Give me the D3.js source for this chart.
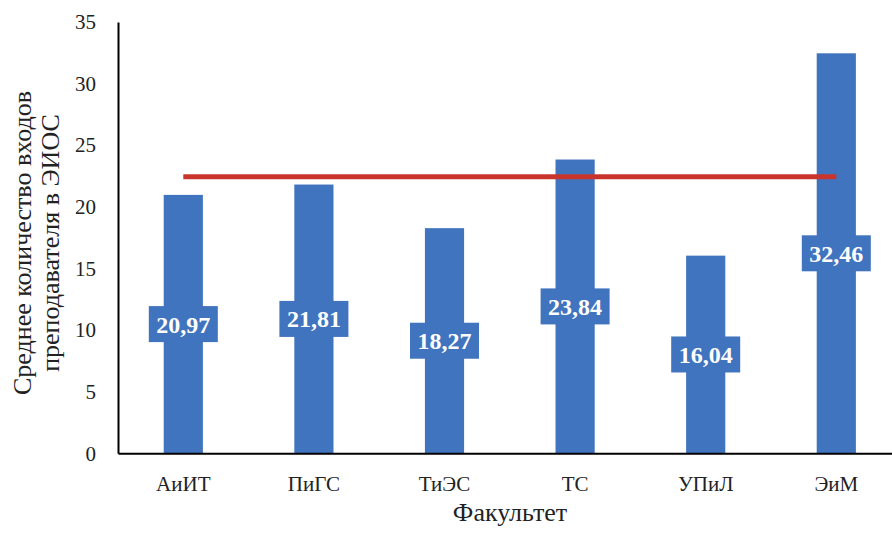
<!DOCTYPE html>
<html><head><meta charset="utf-8">
<script src="https://cdn.jsdelivr.net/npm/d3@7"></script>
<style>
html,body{margin:0;padding:0;background:#fff;}
</style></head>
<body><svg id="c" width="892" height="533"></svg>
<script>
const categories = ["АиИТ","ПиГС","ТиЭС","ТС","УПиЛ","ЭиМ"];
const values = [20.97, 21.81, 18.27, 23.84, 16.04, 32.46];
const valueLabels = ["20,97","21,81","18,27","23,84","16,04","32,46"];
const averageValues = [22.45, 22.45, 22.45, 22.45, 22.45, 22.45];
const yTicks = [0,5,10,15,20,25,30,35];
const yTitleLines = ["Среднее количество входов","преподавателя в ЭИОС"];
const xTitle = "Факультет";

(function(){
const FONT = "'Liberation Serif'";
const svg = d3.select("#c");
const mLeft = 118, mRight = 901.6, mTop = 22, mBottom = 453.3;
const x = d3.scaleBand().domain(categories).range([mLeft, mRight]).paddingInner(0.7).paddingOuter(0.35);
const y = d3.scaleLinear().domain([0,35]).range([mBottom, mTop]);
const blue = "#4174be", red = "#c9342c";

// bars
svg.append("g").selectAll("rect").data(values).join("rect")
  .attr("x",(d,i)=>x(categories[i])).attr("width",x.bandwidth())
  .attr("y",d=>y(d)).attr("height",d=>y(0)-y(d)).attr("fill",blue);

// average line
const line = d3.line().x((d,i)=>x(categories[i])+x.bandwidth()/2).y(d=>y(d));
svg.append("path").datum(averageValues).attr("d",line)
  .attr("fill","none").attr("stroke",red).attr("stroke-width",5);

// data labels
const lg = svg.append("g").selectAll("g").data(values).join("g")
  .attr("transform",(d,i)=>`translate(${x(categories[i])+x.bandwidth()/2},${y(d/2)})`);
lg.append("rect").attr("x",-34.5).attr("y",-18).attr("width",69).attr("height",36).attr("fill",blue);
lg.append("text").text((d,i)=>valueLabels[i]).attr("text-anchor","middle").attr("dy","0.35em")
  .attr("fill","#fff").attr("font-weight","bold").attr("font-size",24).style("font-family",FONT);

// y axis
const ya = svg.append("g").attr("transform",`translate(${mLeft},0)`)
  .call(d3.axisLeft(y).tickValues(yTicks).tickSize(0).tickPadding(22));
ya.attr("font-family",null);
ya.select(".domain").attr("stroke","#000").attr("stroke-width",2);
ya.selectAll("text").attr("font-size",21).attr("fill","#222").style("font-family",FONT);

// x axis
const xa = svg.append("g").attr("transform",`translate(0,${mBottom})`)
  .call(d3.axisBottom(x).tickSize(0).tickPadding(23));
xa.select(".domain").attr("stroke","#000").attr("stroke-width",2);
xa.selectAll("text").attr("font-size",21).attr("fill","#222").style("font-family",FONT);

// titles
svg.append("text").attr("x",510).attr("y",521).attr("text-anchor","middle")
  .attr("font-size",26).attr("fill","#222").style("font-family",FONT).text(xTitle);
const yt = svg.append("text").attr("transform","translate(0,243) rotate(-90)")
  .attr("text-anchor","middle").attr("font-size",26).attr("fill","#222").style("font-family",FONT);
yTitleLines.forEach((t,i)=>yt.append("tspan").attr("x",0).attr("y",31+i*28).text(t));
})();
</script></body></html>
